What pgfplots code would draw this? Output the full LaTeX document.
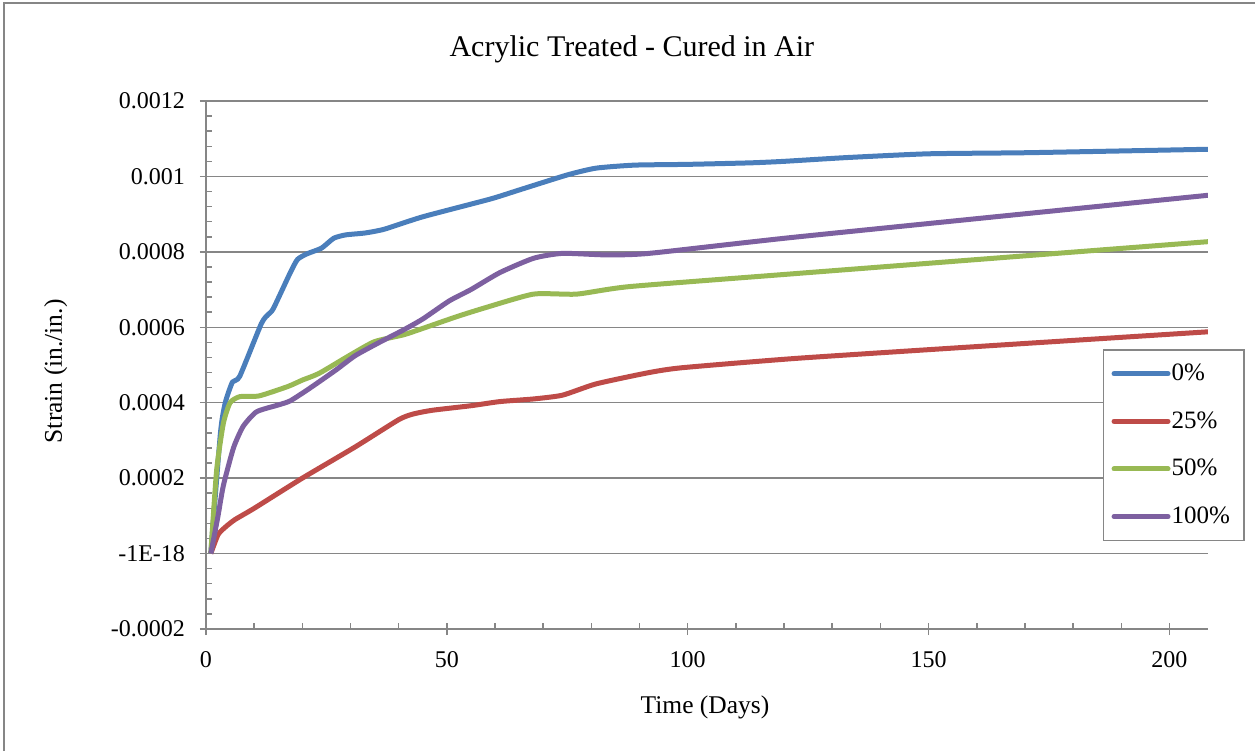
\documentclass[border=0pt]{standalone}
\usepackage{fontspec}
\setmainfont{Liberation Serif}
\usepackage{pgfplots}
\pgfplotsset{compat=1.18}
\definecolor{c0}{RGB}{74,126,187}
\definecolor{c25}{RGB}{190,75,72}
\definecolor{c50}{RGB}{152,185,84}
\definecolor{c100}{RGB}{125,96,160}
\definecolor{gridgray}{RGB}{134,134,134}
\begin{document}
\begin{tikzpicture}
\path[use as bounding box] (-103pt,-61pt) rectangle (524.5pt,314.5pt);
\draw[gridgray, line width=0.75pt] (-101pt,-61pt) -- (-101pt,313pt) -- (524.5pt,313pt);
\begin{axis}[
  at={(0pt,0pt)}, anchor=south west,
  scale only axis, width=501pt, height=264pt,
  xmin=0, xmax=208, ymin=-0.0002, ymax=0.0012,
  axis x line=bottom, axis y line=left,
  axis line style={draw=gridgray, line width=0.75pt, -},
  ymajorgrids, grid style={gridgray, line width=0.75pt},
  xtick={0,50,100,150,200}, xticklabels={0,50,100,150,200},
  minor x tick num=4,
  ytick={-0.0002,0,0.0002,0.0004,0.0006,0.0008,0.001,0.0012},
  yticklabels={-0.0002,-1E-18,0.0002,0.0004,0.0006,0.0008,0.001,0.0012},
  minor y tick num=4,
  scaled y ticks=false, scaled x ticks=false,
  tick align=inside, major tick length=3pt, minor tick length=3pt,
  tick style={gridgray, line width=0.75pt},
  extra x ticks={0,50,100,150,200}, extra x tick labels={},
  extra x tick style={tick align=outside, grid=none},
  extra y ticks={-0.0002,0,0.0002,0.0004,0.0006,0.0008,0.001,0.0012}, extra y tick labels={},
  extra y tick style={tick align=outside, grid=none},
  ticklabel style={font=\fontsize{12}{14}\selectfont},
  xticklabel style={anchor=center, yshift=-15.5pt},
  yticklabel style={anchor=east, xshift=-7pt},
  title={Acrylic Treated - Cured in Air},
  title style={font=\fontsize{15}{18}\selectfont, at={(axis description cs:0.425,1.102)}, anchor=center, yshift=-7pt},
  xlabel={Time (Days)},
  xlabel style={font=\fontsize{12.75}{15}\selectfont, at={(axis description cs:0.498,-0.148)}, anchor=center},
  ylabel={Strain (in./in.)},
  ylabel style={font=\fontsize{12.75}{15}\selectfont, at={(axis description cs:-0.150,0.488)}, anchor=center},
  legend style={at={(0.895,0.530)}, anchor=north west, draw=gridgray, line width=0.75pt,
    font=\fontsize{12.5}{14}\selectfont, inner xsep=4pt, inner ysep=6.5pt, row sep=13pt,
    nodes={inner sep=0.5pt}},
  legend cell align=left,
  legend image code/.code={\draw[line width=2.5pt, line cap=round] (1.25pt,0pt) -- (28.25pt,0pt);},
  every axis plot/.append style={line width=2.5pt, smooth, tension=0.35, line join=round},
]
\addplot[c0] coordinates {
(1,0) (3,0.00032) (4,0.0004) (5.5,0.000455) (7,0.00047) (11.5,0.00061) (13,0.000635) (14,0.00065)
(17.5,0.000745) (19,0.00078) (21,0.000795) (24,0.00081) (26.5,0.000836) (29,0.000845) (33,0.00085)
(37,0.00086) (45,0.000893) (59,0.00094) (65,0.000964) (75,0.001004) (81,0.001022) (89,0.00103)
(100,0.001032) (113,0.001036) (120,0.00104) (133,0.00105) (150,0.00106) (171,0.001063) (208,0.001072)
};
\addplot[c25] coordinates {
(1,0) (2.5,0.00005) (4,0.00007) (6,0.00009) (10,0.00012) (20,0.0002) (31,0.000283) (40,0.000355)
(43,0.00037) (47,0.00038) (55,0.000392) (61,0.000403) (68,0.00041) (74,0.00042) (81,0.00045)
(92,0.00048) (99,0.000493) (123,0.000518) (165,0.000553) (208,0.000588)
};
\addplot[c50] coordinates {
(1,0) (2.2,0.00022) (3.6,0.000345) (5,0.0004) (7,0.000416) (11,0.000418) (17,0.000443) (20,0.00046)
(23.5,0.000478) (30,0.000527) (35,0.000562) (41,0.00058) (45,0.000597) (52,0.000628) (58,0.000652)
(68,0.000688) (77,0.000688) (88,0.000708) (123,0.000743) (208,0.000827)
};
\addplot[c100] coordinates {
(1,0) (2.5,0.0001) (3.6,0.00018) (5.7,0.00028) (7.7,0.000337) (10.5,0.000376) (15,0.000394)
(17.5,0.000405) (21.5,0.000438) (27,0.000487) (31,0.000525) (36,0.00056) (41,0.000593) (45,0.000622)
(50.5,0.00067) (55,0.0007) (61,0.000745) (68,0.000783) (74,0.000796) (83,0.000792) (92,0.000796)
(123,0.00084) (208,0.00095)
};
\legend{0\%,25\%,50\%,100\%\rule{2.5pt}{0pt}}
\end{axis}
\end{tikzpicture}
\end{document}
